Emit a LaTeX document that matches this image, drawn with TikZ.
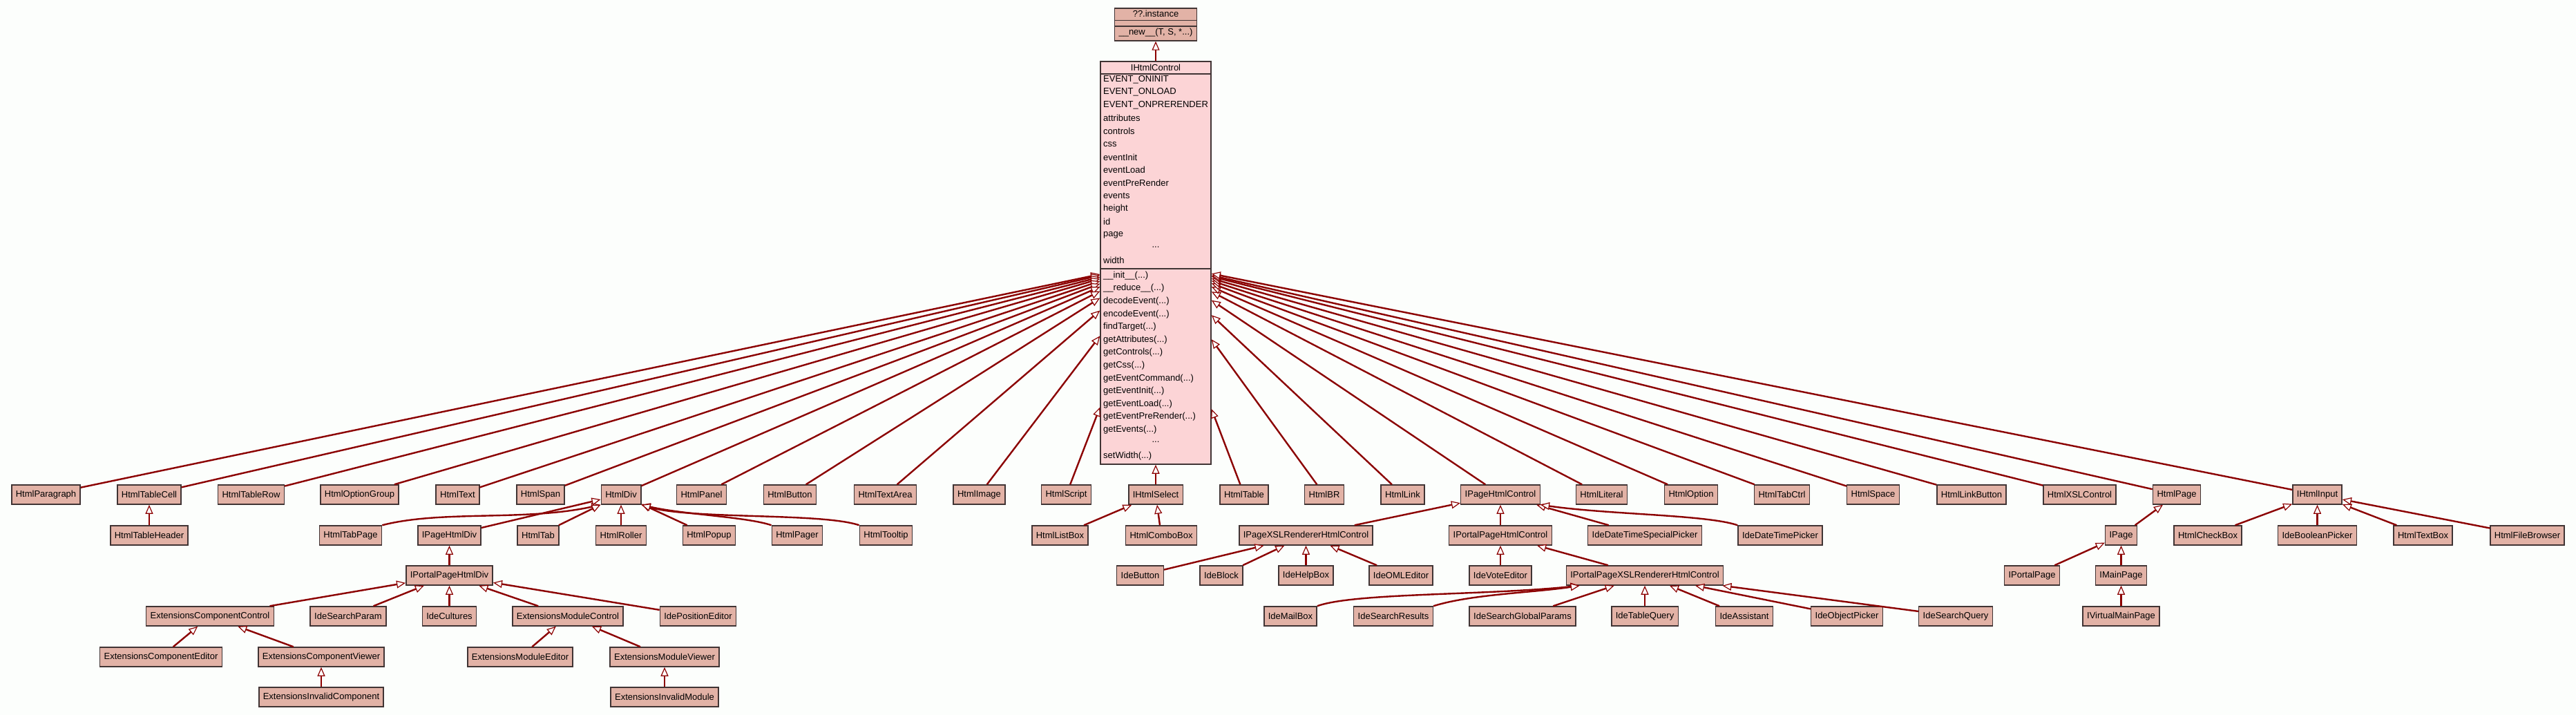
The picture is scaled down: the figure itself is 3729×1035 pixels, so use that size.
\documentclass[tikz,border=0pt]{standalone}
\usepackage{fontspec}
\setmainfont{Liberation Sans}
\usetikzlibrary{arrows.meta}

\definecolor{classfill}{RGB}{226,178,166}
\definecolor{ctrlfill}{RGB}{252,212,214}
\definecolor{classline}{RGB}{64,52,52}
\definecolor{edgered}{RGB}{139,0,0}
\definecolor{paper}{RGB}{252,254,252}
\newcommand{\classfont}{\fontsize{13}{15}\selectfont}
\newcommand{\dotargs}{(...)}

\begin{document}
\begin{tikzpicture}[x=1pt, y=-1pt,
  classbox/.style={draw=classline, fill=classfill, line width=1.5pt, minimum height=28pt, inner xsep=6pt, inner ysep=0pt, font=\classfont},
  member/.style={anchor=west, inner sep=0pt, font=\classfont},
  inherit/.style={draw=edgered, line width=2.4pt, -{Triangle[fill=white, length=13pt, width=11pt, line width=1.2pt]}}]
\def\rowone{716}
\def\rowtwo{775}
\def\rowthree{833}
\def\rowfour{892}
\def\rowfive{951}
\def\rowsix{1009}

\fill[paper] (0,0) rectangle (3729,1035);
\useasboundingbox (0,0) rectangle (3729,1035);

% BASE CLASSES
\node[classbox, minimum width=119pt, minimum height=47pt] (instance) at (1673,35.5) {};
\node[font=\classfont, inner sep=0pt] (instancetitle) at (1673,19.5) {??.instance};
\draw[classline, line width=1.5pt] (1613.5,29.5) -- (1732.5,29.5);
\draw[classline, line width=1.5pt] (1613.5,38) -- (1732.5,38);
\node[font=\classfont, inner sep=0pt] (instancenew) at (1673,47.5) {\_\_new\_\_(T, S, *...)};

\node[draw=classline, fill=ctrlfill, line width=1.5pt, minimum width=160pt, minimum height=583pt, inner sep=0pt] (ihtmlcontrol) at (1673,380.5) {};
\node[font=\classfont, inner sep=0pt] (ihtmlcontroltitle) at (1673,98) {IHtmlControl};
\draw[classline, line width=1.5pt] (1593,107) -- (1753,107);
\draw[classline, line width=1.5pt] (1593,389) -- (1753,389);
\foreach \attr [count=\i from 0] in {EVENT\_ONINIT, EVENT\_ONLOAD, EVENT\_ONPRERENDER, attributes, controls, css, eventInit, eventLoad, eventPreRender, events, height, id, page}
  \node[member] (attr\i) at (1597,115+18.75*\i) {\attr};
\node[font=\classfont, inner sep=0pt] (attrdots) at (1673,358) {...};
\node[member] (attrwidth) at (1597,377) {width};
\foreach \meth [count=\i from 0] in {\_\_init\_\_\dotargs, \_\_reduce\_\_\dotargs, decodeEvent\dotargs, encodeEvent\dotargs, findTarget\dotargs, getAttributes\dotargs, getControls\dotargs, getCss\dotargs, getEventCommand\dotargs, getEventInit\dotargs, getEventLoad\dotargs, getEventPreRender\dotargs, getEvents\dotargs}
  \node[member] (meth\i) at (1597,399+18.6*\i) {\meth};
\node[font=\classfont, inner sep=0pt] (methdots) at (1673,640) {...};
\node[member] (methsetwidth) at (1597,660) {setWidth\dotargs};

% FIRST ROW
\node[classbox] (htmlparagraph) at (66.5,\rowone) {HtmlParagraph};
\node[classbox] (htmltablecell) at (216,\rowone) {HtmlTableCell};
\node[classbox] (htmltablerow) at (363.5,\rowone) {HtmlTableRow};
\node[classbox] (htmloptiongroup) at (520.5,\rowone) {HtmlOptionGroup};
\node[classbox] (htmltext) at (662.5,\rowone) {HtmlText};
\node[classbox] (htmlspan) at (782.5,\rowone) {HtmlSpan};
\node[classbox] (htmldiv) at (899,\rowone) {HtmlDiv};
\node[classbox] (htmlpanel) at (1015.5,\rowone) {HtmlPanel};
\node[classbox] (htmlbutton) at (1143.5,\rowone) {HtmlButton};
\node[classbox] (htmltextarea) at (1281.5,\rowone) {HtmlTextArea};
\node[classbox] (htmlimage) at (1417.5,\rowone) {HtmlImage};
\node[classbox] (htmlscript) at (1543.5,\rowone) {HtmlScript};
\node[classbox] (ihtmlselect) at (1673,\rowone) {IHtmlSelect};
\node[classbox] (htmltable) at (1801,\rowone) {HtmlTable};
\node[classbox] (htmlbr) at (1917,\rowone) {HtmlBR};
\node[classbox] (htmllink) at (2030.5,\rowone) {HtmlLink};
\node[classbox] (ipagehtmlcontrol) at (2172,\rowone) {IPageHtmlControl};
\node[classbox] (htmlliteral) at (2318.5,\rowone) {HtmlLiteral};
\node[classbox] (htmloption) at (2448,\rowone) {HtmlOption};
\node[classbox] (htmltabctrl) at (2579.5,\rowone) {HtmlTabCtrl};
\node[classbox] (htmlspace) at (2711.5,\rowone) {HtmlSpace};
\node[classbox] (htmllinkbutton) at (2854,\rowone) {HtmlLinkButton};
\node[classbox] (htmlxslcontrol) at (3010.5,\rowone) {HtmlXSLControl};
\node[classbox] (htmlpage) at (3151,\rowone) {HtmlPage};
\node[classbox] (ihtmlinput) at (3354.5,\rowone) {IHtmlInput};

% SECOND ROW
\node[classbox] (htmltableheader) at (216,\rowtwo) {HtmlTableHeader};
\node[classbox] (htmltabpage) at (507.5,\rowtwo) {HtmlTabPage};
\node[classbox] (ipagehtmldiv) at (650.5,\rowtwo) {IPageHtmlDiv};
\node[classbox] (htmltab) at (779,\rowtwo) {HtmlTab};
\node[classbox] (htmlroller) at (899,\rowtwo) {HtmlRoller};
\node[classbox] (htmlpopup) at (1026.5,\rowtwo) {HtmlPopup};
\node[classbox] (htmlpager) at (1154,\rowtwo) {HtmlPager};
\node[classbox] (htmltooltip) at (1282.5,\rowtwo) {HtmlTooltip};
\node[classbox] (htmllistbox) at (1534.5,\rowtwo) {HtmlListBox};
\node[classbox] (htmlcombobox) at (1681,\rowtwo) {HtmlComboBox};
\node[classbox] (ipagexslrendererhtmlcontrol) at (1890.5,\rowtwo) {IPageXSLRendererHtmlControl};
\node[classbox] (iportalpagehtmlcontrol) at (2172,\rowtwo) {IPortalPageHtmlControl};
\node[classbox] (idedatetimespecialpicker) at (2381,\rowtwo) {IdeDateTimeSpecialPicker};
\node[classbox] (idedatetimepicker) at (2577,\rowtwo) {IdeDateTimePicker};
\node[classbox] (ipage) at (3070.5,\rowtwo) {IPage};
\node[classbox] (htmlcheckbox) at (3196,\rowtwo) {HtmlCheckBox};
\node[classbox] (idebooleanpicker) at (3354.5,\rowtwo) {IdeBooleanPicker};
\node[classbox] (htmltextbox) at (3507.5,\rowtwo) {HtmlTextBox};
\node[classbox] (htmlfilebrowser) at (3658.5,\rowtwo) {HtmlFileBrowser};

% THIRD ROW
\node[classbox] (iportalpagehtmldiv) at (650.5,\rowthree) {IPortalPageHtmlDiv};
\node[classbox] (idebutton) at (1650.5,\rowthree) {IdeButton};
\node[classbox] (ideblock) at (1768,\rowthree) {IdeBlock};
\node[classbox] (idehelpbox) at (1890.5,\rowthree) {IdeHelpBox};
\node[classbox] (ideomleditor) at (2028,\rowthree) {IdeOMLEditor};
\node[classbox] (idevoteeditor) at (2172,\rowthree) {IdeVoteEditor};
\node[classbox] (iportalpagexslrendererhtmlcontrol) at (2381,\rowthree) {IPortalPageXSLRendererHtmlControl};
\node[classbox] (iportalpage) at (2941.5,\rowthree) {IPortalPage};
\node[classbox] (imainpage) at (3070.5,\rowthree) {IMainPage};

% FOURTH ROW
\node[classbox] (extensionscomponentcontrol) at (304,\rowfour) {ExtensionsComponentControl};
\node[classbox] (idesearchparam) at (504,\rowfour) {IdeSearchParam};
\node[classbox] (idecultures) at (650.5,\rowfour) {IdeCultures};
\node[classbox] (extensionsmodulecontrol) at (822,\rowfour) {ExtensionsModuleControl};
\node[classbox] (idepositioneditor) at (1010.5,\rowfour) {IdePositionEditor};
\node[classbox] (idemailbox) at (1868,\rowfour) {IdeMailBox};
\node[classbox] (idesearchresults) at (2017,\rowfour) {IdeSearchResults};
\node[classbox] (idesearchglobalparams) at (2204,\rowfour) {IdeSearchGlobalParams};
\node[classbox] (idetablequery) at (2381,\rowfour) {IdeTableQuery};
\node[classbox] (ideassistant) at (2525,\rowfour) {IdeAssistant};
\node[classbox] (ideobjectpicker) at (2673.5,\rowfour) {IdeObjectPicker};
\node[classbox] (idesearchquery) at (2831,\rowfour) {IdeSearchQuery};
\node[classbox] (ivirtualmainpage) at (3070.5,\rowfour) {IVirtualMainPage};

% FIFTH AND SIXTH ROW
\node[classbox] (extensionscomponenteditor) at (233,\rowfive) {ExtensionsComponentEditor};
\node[classbox] (extensionscomponentviewer) at (465,\rowfive) {ExtensionsComponentViewer};
\node[classbox] (extensionsmoduleeditor) at (753,\rowfive) {ExtensionsModuleEditor};
\node[classbox] (extensionsmoduleviewer) at (962,\rowfive) {ExtensionsModuleViewer};
\node[classbox] (extensionsinvalidcomponent) at (465,\rowsix) {ExtensionsInvalidComponent};
\node[classbox] (extensionsinvalidmodule) at (962,\rowsix) {ExtensionsInvalidModule};

% INHERITANCE
\draw[inherit] (ihtmlcontrol) -- (instance);

\draw[inherit] (htmlparagraph) -- (ihtmlcontrol);
\draw[inherit] (htmltablecell) -- (ihtmlcontrol);
\draw[inherit] (htmltablerow) -- (ihtmlcontrol);
\draw[inherit] (htmloptiongroup) -- (ihtmlcontrol);
\draw[inherit] (htmltext) -- (ihtmlcontrol);
\draw[inherit] (htmlspan) -- (ihtmlcontrol);
\draw[inherit] (htmldiv) -- (ihtmlcontrol);
\draw[inherit] (htmlpanel) -- (ihtmlcontrol);
\draw[inherit] (htmlbutton) -- (ihtmlcontrol);
\draw[inherit] (htmltextarea) -- (ihtmlcontrol);
\draw[inherit] (htmlimage) -- (ihtmlcontrol);
\draw[inherit] (htmlscript) -- (ihtmlcontrol);
\draw[inherit] (ihtmlselect) -- (ihtmlcontrol);
\draw[inherit] (htmltable) -- (ihtmlcontrol);
\draw[inherit] (htmlbr) -- (ihtmlcontrol);
\draw[inherit] (htmllink) -- (ihtmlcontrol);
\draw[inherit] (ipagehtmlcontrol) -- (ihtmlcontrol);
\draw[inherit] (htmlliteral) -- (ihtmlcontrol);
\draw[inherit] (htmloption) -- (ihtmlcontrol);
\draw[inherit] (htmltabctrl) -- (ihtmlcontrol);
\draw[inherit] (htmlspace) -- (ihtmlcontrol);
\draw[inherit] (htmllinkbutton) -- (ihtmlcontrol);
\draw[inherit] (htmlxslcontrol) -- (ihtmlcontrol);
\draw[inherit] (htmlpage) -- (ihtmlcontrol);
\draw[inherit] (ihtmlinput) -- (ihtmlcontrol);

\draw[inherit] (htmltableheader) -- (htmltablecell);

\draw[inherit] (htmltabpage.north east) .. controls (640,738) and (760,755) .. (htmldiv.south west);
\draw[inherit] (ipagehtmldiv) -- (htmldiv);
\draw[inherit] (htmltab) -- (htmldiv);
\draw[inherit] (htmlroller) -- (htmldiv);
\draw[inherit] (htmlpopup) -- (htmldiv);
\draw[inherit] (htmlpager.north west) .. controls (1080,748) and (990,745) .. (htmldiv.south east);
\draw[inherit] (htmltooltip.north west) .. controls (1190,742) and (1000,752) .. (htmldiv.south east);

\draw[inherit] (iportalpagehtmldiv) -- (ipagehtmldiv);
\draw[inherit] (extensionscomponentcontrol) -- (iportalpagehtmldiv);
\draw[inherit] (idesearchparam) -- (iportalpagehtmldiv);
\draw[inherit] (idecultures) -- (iportalpagehtmldiv);
\draw[inherit] (extensionsmodulecontrol) -- (iportalpagehtmldiv);
\draw[inherit] (idepositioneditor) -- (iportalpagehtmldiv);
\draw[inherit] (extensionscomponenteditor) -- (extensionscomponentcontrol);
\draw[inherit] (extensionscomponentviewer) -- (extensionscomponentcontrol);
\draw[inherit] (extensionsinvalidcomponent) -- (extensionscomponentviewer);
\draw[inherit] (extensionsmoduleeditor) -- (extensionsmodulecontrol);
\draw[inherit] (extensionsmoduleviewer) -- (extensionsmodulecontrol);
\draw[inherit] (extensionsinvalidmodule) -- (extensionsmoduleviewer);

\draw[inherit] (htmllistbox) -- (ihtmlselect);
\draw[inherit] (htmlcombobox) -- (ihtmlselect);

\draw[inherit] (ipagexslrendererhtmlcontrol) -- (ipagehtmlcontrol);
\draw[inherit] (iportalpagehtmlcontrol) -- (ipagehtmlcontrol);
\draw[inherit] (idedatetimespecialpicker) -- (ipagehtmlcontrol);
\draw[inherit] (idedatetimepicker.north west) .. controls (2470,745) and (2330,745) .. (ipagehtmlcontrol.south east);
\draw[inherit] (idebutton) -- (ipagexslrendererhtmlcontrol);
\draw[inherit] (ideblock) -- (ipagexslrendererhtmlcontrol);
\draw[inherit] (idehelpbox) -- (ipagexslrendererhtmlcontrol);
\draw[inherit] (ideomleditor) -- (ipagexslrendererhtmlcontrol);
\draw[inherit] (idevoteeditor) -- (iportalpagehtmlcontrol);
\draw[inherit] (iportalpagexslrendererhtmlcontrol) -- (iportalpagehtmlcontrol);

\draw[inherit] (idemailbox.north east) .. controls (1960,858) and (2150,862) .. ([xshift=20pt]iportalpagexslrendererhtmlcontrol.south west);
\draw[inherit] (idesearchresults.north east) .. controls (2130,860) and (2220,858) .. ([xshift=20pt]iportalpagexslrendererhtmlcontrol.south west);
\draw[inherit] (idesearchglobalparams) -- (iportalpagexslrendererhtmlcontrol);
\draw[inherit] (idetablequery) -- (iportalpagexslrendererhtmlcontrol);
\draw[inherit] (ideassistant) -- (iportalpagexslrendererhtmlcontrol);
\draw[inherit] (ideobjectpicker) -- (iportalpagexslrendererhtmlcontrol);
\draw[inherit] (idesearchquery) -- (iportalpagexslrendererhtmlcontrol);

\draw[inherit] (ipage) -- (htmlpage);
\draw[inherit] (iportalpage) -- (ipage);
\draw[inherit] (imainpage) -- (ipage);
\draw[inherit] (ivirtualmainpage) -- (imainpage);

\draw[inherit] (htmlcheckbox) -- (ihtmlinput);
\draw[inherit] (idebooleanpicker) -- (ihtmlinput);
\draw[inherit] (htmltextbox) -- (ihtmlinput);
\draw[inherit] (htmlfilebrowser) -- (ihtmlinput);
\end{tikzpicture}
\end{document}
